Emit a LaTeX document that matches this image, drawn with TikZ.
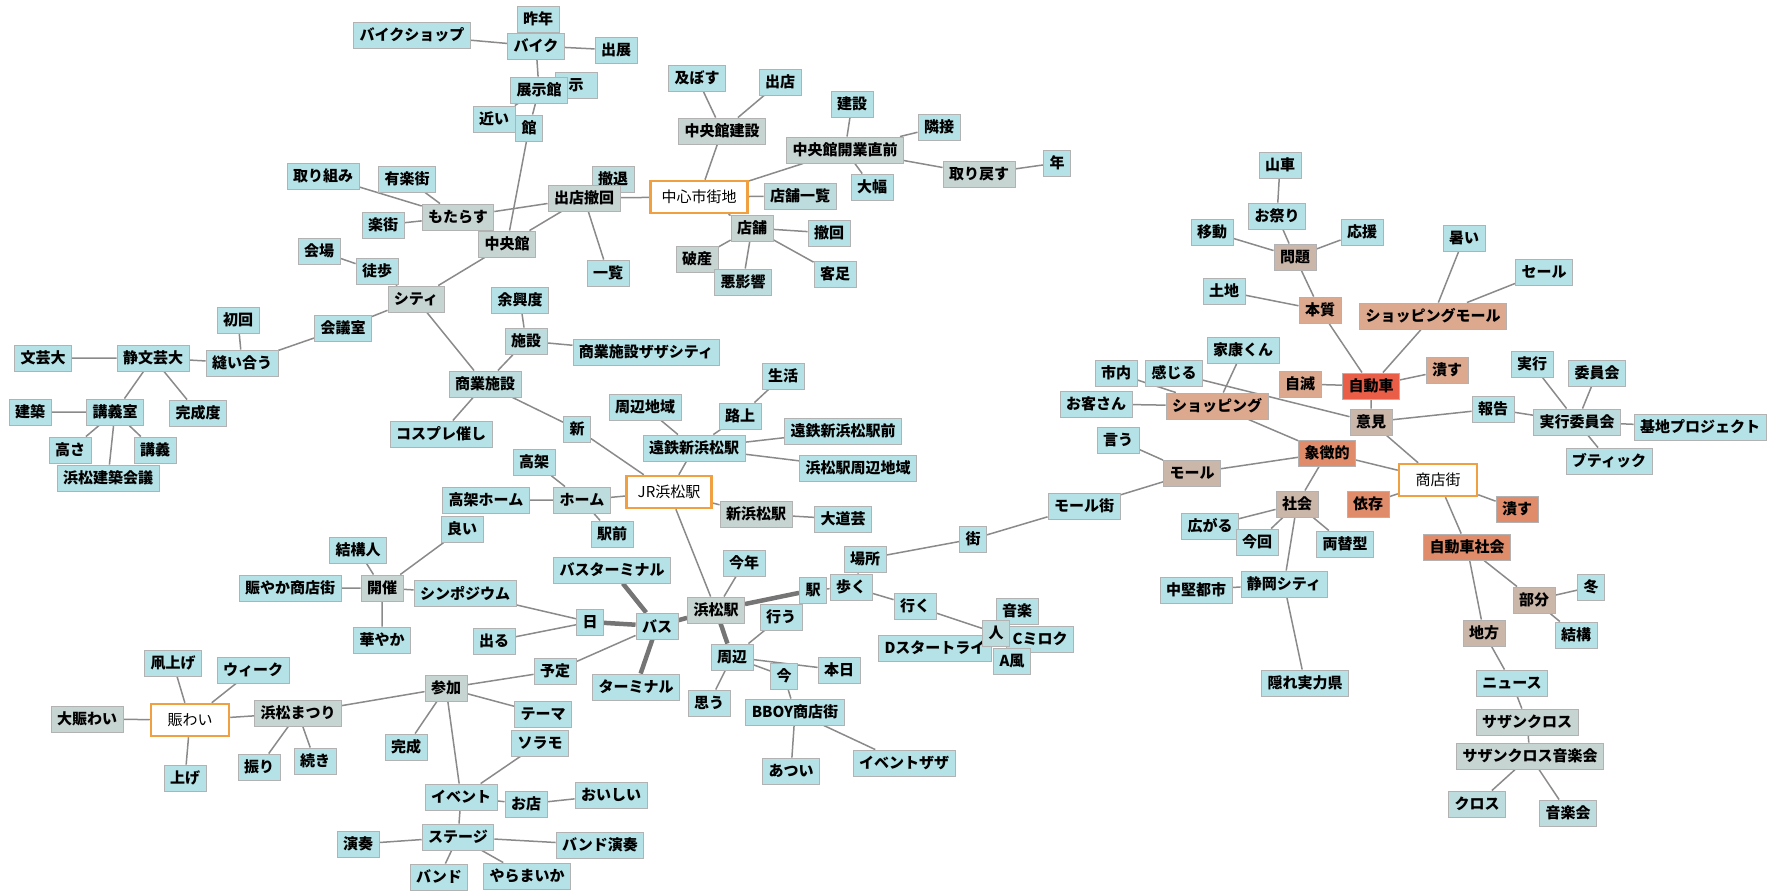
\documentclass[tikz,border=0pt]{standalone}
\usepackage{fontspec}
\setmainfont{Noto Sans CJK JP}
\usetikzlibrary{backgrounds}

\definecolor{cyanbg}{RGB}{180,226,230}
\definecolor{graybg}{RGB}{198,212,210}
\definecolor{midbg}{RGB}{188,220,221}
\definecolor{tanbg}{RGB}{203,182,170}
\definecolor{salbg}{RGB}{220,168,142}
\definecolor{corbg}{RGB}{224,140,106}
\definecolor{redbg}{RGB}{234,94,72}
\definecolor{hubline}{RGB}{240,160,64}
\definecolor{linkgray}{RGB}{138,138,138}

\tikzset{
  word/.style={draw=black!30, line width=0.9pt, inner xsep=6pt, inner ysep=2pt,
    minimum height=26pt, font=\fontsize{15}{15}\selectfont\bfseries},
  cybox/.style={word, fill=cyanbg},
  grbox/.style={word, fill=graybg},
  midbox/.style={word, fill=midbg},
  tanbox/.style={word, fill=tanbg},
  salbox/.style={word, fill=salbg},
  corbox/.style={word, fill=corbg},
  redbox/.style={word, fill=redbg},
  hubbox/.style={word, fill=white, draw=hubline, line width=2.5pt, minimum height=32pt,
    minimum width=78pt, inner xsep=11pt, font=\fontsize{15}{15}\selectfont},
  link/.style={draw=linkgray, line width=1.5pt},
  heavylink/.style={draw=linkgray!85!black, line width=4.5pt}
}

\begin{document}
\begin{tikzpicture}[x=1pt,y=-1pt]
  \useasboundingbox (0,0) rectangle (1780,894);

  % upper left
  \node[cybox] (sakunen) at (538,19) {昨年};
  \node[cybox] (bikeshop) at (412,35) {バイクショップ};
  \node[cybox] (bike) at (536,46) {バイク};
  \node[cybox] (shutten) at (616,50) {出展};
  \node[cybox, minimum width=42pt] (ji) at (576,85) {示};
  \node[cybox] (tenjikan) at (539,90) {展示館};
  \node[cybox] (chikai) at (494,119) {近い};
  \node[cybox] (kan) at (529,128) {館};
  \node[cybox] (torikumi) at (323,176) {取り組み};
  \node[cybox] (yurakugai) at (407,179) {有楽街};
  \node[grbox] (motarasu) at (458,217) {もたらす};
  \node[cybox] (rakugai) at (383,225) {楽街};
  \node[grbox] (chuokan) at (507,244) {中央館};
  \node[midbox] (tettai) at (613,179) {撤退};
  \node[grbox] (tekkaiA) at (584,198) {出店撤回};
  \node[cybox] (ichiran) at (608,273) {一覧};
  \node[cybox] (kaijo) at (319,251) {会場};
  \node[cybox] (toho) at (377,271) {徒歩};

  % upper centre
  \node[hubbox] (center) at (699,197) {中心市街地};
  \node[cybox] (oyobosu) at (697,78) {及ぼす};
  \node[cybox] (shuttenB) at (780,82) {出店};
  \node[grbox] (kensetsuC) at (722,131) {中央館建設};
  \node[cybox] (kensetsu) at (852,104) {建設};
  \node[cybox] (rinsetsu) at (939,127) {隣接};
  \node[grbox] (chokuzen) at (845,150) {中央館開業直前};
  \node[grbox] (torimodosu) at (979,174) {取り戻す};
  \node[cybox] (nen) at (1057,163) {年};
  \node[cybox] (ohaba) at (872,187) {大幅};
  \node[midbox] (tenpoichiran) at (800,196) {店舗一覧};
  \node[grbox] (tenpo) at (752,228) {店舗};
  \node[cybox] (tekkai) at (829,233) {撤回};
  \node[grbox] (hasan) at (697,259) {破産};
  \node[midbox] (akueikyo) at (743,282) {悪影響};
  \node[cybox] (kyakuashi) at (835,274) {客足};

  % left
  \node[grbox] (city) at (416,299) {シティ};
  \node[cybox] (shokai) at (238,320) {初回};
  \node[cybox] (kaigi) at (343,328) {会議室};
  \node[cybox] (bungei) at (43,358) {文芸大};
  \node[cybox] (seibungei) at (153,358) {静文芸大};
  \node[cybox] (nuiau) at (242,363) {縫い合う};
  \node[cybox] (kenchiku) at (30,412) {建築};
  \node[cybox] (kogishitsu) at (115,412) {講義室};
  \node[cybox] (kanseido) at (198,413) {完成度};
  \node[cybox] (takasa) at (70,450) {高さ};
  \node[cybox] (kogi) at (155,450) {講義};
  \node[cybox] (kaigiB) at (108,478) {浜松建築会議};

  % JR station
  \node[cybox] (yokyo) at (520,300) {余興度};
  \node[midbox] (shisetsu) at (526,341) {施設};
  \node[cybox] (zazacity) at (646,352) {商業施設ザザシティ};
  \node[midbox] (shogyo) at (485,384) {商業施設};
  \node[cybox] (cosplay) at (441,434) {コスプレ催し};
  \node[cybox] (seikatsu) at (783,376) {生活};
  \node[cybox] (shuhenchiiki) at (645,407) {周辺地域};
  \node[cybox] (rojo) at (740,416) {路上};
  \node[cybox] (shin) at (577,429) {新};
  \node[cybox] (entetsumae) at (843,431) {遠鉄新浜松駅前};
  \node[cybox] (entetsu) at (694,448) {遠鉄新浜松駅};
  \node[cybox] (hamashuhen) at (858,468) {浜松駅周辺地域};
  \node[cybox] (koka) at (534,462) {高架};
  \node[hubbox] (jr) at (669,492) {JR浜松駅};
  \node[cybox] (kokahome) at (486,500) {高架ホーム};
  \node[midbox] (home) at (582,500) {ホーム};
  \node[grbox] (shinhama) at (756,514) {新浜松駅};
  \node[cybox] (daidogei) at (843,519) {大道芸};
  \node[cybox] (yoi) at (462,529) {良い};
  \node[cybox] (ekimae) at (612,534) {駅前};

  % bus and station
  \node[cybox] (kekkonin) at (358,550) {結構人};
  \node[cybox] (nigiyaka) at (290,588) {賑やか商店街};
  \node[grbox] (kaisai) at (382,588) {開催};
  \node[cybox] (symposium) at (465,593) {シンポジウム};
  \node[cybox] (hanayaka) at (382,640) {華やか};
  \node[cybox] (kotoshi) at (744,563) {今年};
  \node[cybox] (busterm) at (612,570) {バスターミナル};
  \node[cybox] (basho) at (865,559) {場所};
  \node[cybox] (machi) at (973,539) {街};
  \node[cybox] (mallgai) at (1084,506) {モール街};
  \node[cybox] (eki) at (813,590) {駅};
  \node[cybox] (aruku) at (851,587) {歩く};
  \node[cybox] (iku) at (915,606) {行く};
  \node[cybox] (hi) at (590,622) {日};
  \node[cybox] (bus) at (657,626) {バス};
  \node[grbox] (hamaeki) at (716,610) {浜松駅};
  \node[cybox] (okonau) at (781,617) {行う};
  \node[cybox] (ongaku) at (1017,611) {音楽};
  \node[cybox] (cmiroku) at (1040,639) {Cミロク};
  \node[cybox] (dstart) at (935,648) {Dスタートライ};
  \node[cybox] (afu) at (1012,661) {A風};
  \node[midbox] (hito) at (996,633) {人};
  \node[cybox] (deru) at (494,641) {出る};
  \node[cybox] (shuhen) at (732,657) {周辺};
  \node[cybox] (yotei) at (555,671) {予定};
  \node[cybox] (ima) at (784,676) {今};
  \node[cybox] (honjitsu) at (839,670) {本日};
  \node[cybox] (terminal) at (636,687) {ターミナル};
  \node[cybox] (omou) at (709,703) {思う};
  \node[cybox] (bboy) at (795,712) {BBOY商店街};
  \node[cybox] (atsui) at (791,771) {あつい};
  \node[cybox] (eventzaza) at (904,763) {イベントザザ};

  % festival
  \node[cybox] (takoage) at (173,663) {凧上げ};
  \node[cybox] (week) at (253,670) {ウィーク};
  \node[grbox] (onigiwai) at (87,719) {大賑わい};
  \node[hubbox] (nigiwai) at (190,720) {賑わい};
  \node[grbox] (matsuri) at (298,713) {浜松まつり};
  \node[grbox] (sanka) at (446,688) {参加};
  \node[cybox] (kansei) at (406,747) {完成};
  \node[cybox] (furi) at (259,767) {振り};
  \node[cybox] (tsuzuki) at (315,761) {続き};
  \node[cybox] (age) at (185,778) {上げ};
  \node[cybox] (thema) at (543,714) {テーマ};
  \node[cybox] (sorami) at (540,743) {ソラモ};
  \node[cybox] (event) at (461,797) {イベント};
  \node[cybox] (omise) at (526,804) {お店};
  \node[cybox] (oishii) at (611,795) {おいしい};
  \node[cybox] (ensou) at (358,844) {演奏};
  \node[cybox] (stage) at (458,837) {ステージ};
  \node[cybox] (bandensou) at (600,845) {バンド演奏};
  \node[cybox] (band) at (439,877) {バンド};
  \node[cybox] (yaramaika) at (527,876) {やらまいか};

  % right
  \node[cybox] (dashi) at (1280,165) {山車};
  \node[cybox] (omatsuri) at (1277,216) {お祭り};
  \node[cybox] (ido) at (1212,232) {移動};
  \node[cybox] (oen) at (1362,232) {応援};
  \node[tanbox] (mondai) at (1295,257) {問題};
  \node[cybox] (atsui2) at (1464,238) {暑い};
  \node[cybox] (sale) at (1544,272) {セール};
  \node[cybox] (tochi) at (1224,291) {土地};
  \node[salbox] (honshitsu) at (1320,310) {本質};
  \node[salbox] (shopmall) at (1433,316) {ショッピングモール};
  \node[cybox] (ieyasu) at (1243,350) {家康くん};
  \node[cybox] (shinai) at (1116,373) {市内};
  \node[cybox] (kanjiru) at (1174,373) {感じる};
  \node[salbox] (jimetsu) at (1300,384) {自滅};
  \node[redbox] (car) at (1371,386) {自動車};
  \node[salbox] (tsubusu) at (1447,370) {潰す};
  \node[cybox] (jikko) at (1532,364) {実行};
  \node[cybox] (iinkai) at (1597,373) {委員会};
  \node[cybox] (okyaku) at (1096,404) {お客さん};
  \node[salbox] (shopping) at (1217,406) {ショッピング};
  \node[cybox] (hokoku) at (1493,409) {報告};
  \node[tanbox] (iken) at (1371,422) {意見};
  \node[midbox] (jikkoiinkai) at (1577,422) {実行委員会};
  \node[cybox] (kichi) at (1700,427) {基地プロジェクト};
  \node[cybox] (iu) at (1118,440) {言う};
  \node[tanbox] (mall) at (1192,473) {モール};
  \node[corbox] (shocho) at (1327,453) {象徴的};
  \node[cybox] (boutique) at (1609,461) {ブティック};
  \node[hubbox] (shotengai) at (1438,480) {商店街};
  \node[corbox] (izon) at (1368,504) {依存};
  \node[corbox] (tsubusu2) at (1517,509) {潰す};
  \node[tanbox] (shakai) at (1297,504) {社会};
  \node[cybox] (hirogaru) at (1210,526) {広がる};
  \node[cybox] (konkai) at (1257,542) {今回};
  \node[cybox] (ryogae) at (1345,544) {両替型};
  \node[corbox] (carsociety) at (1467,547) {自動車社会};
  \node[cybox] (chuken) at (1196,590) {中堅都市};
  \node[cybox] (shizuoka) at (1284,584) {静岡シティ};
  \node[tanbox] (bubun) at (1534,600) {部分};
  \node[cybox] (fuyu) at (1591,587) {冬};
  \node[cybox] (kekko) at (1576,635) {結構};
  \node[tanbox] (chiho) at (1484,633) {地方};
  \node[cybox] (kakure) at (1305,683) {隠れ実力県};
  \node[cybox] (news) at (1512,683) {ニュース};
  \node[grbox] (southern) at (1527,722) {サザンクロス};
  \node[grbox] (concertS) at (1530,756) {サザンクロス音楽会};
  \node[midbox] (cross) at (1477,804) {クロス};
  \node[midbox] (concert) at (1568,813) {音楽会};

  \begin{scope}[on background layer]
    \draw[link] (bikeshop) -- (bike) (sakunen) -- (bike) (bike) -- (shutten)
      (bike) -- (tenjikan) (tenjikan) -- (chikai) (tenjikan) -- (kan) (kan) -- (chuokan);
    \draw[link] (torikumi) -- (motarasu) (yurakugai) -- (motarasu) (rakugai) -- (motarasu)
      (motarasu) -- (tekkaiA) (chuokan) -- (tekkaiA) (tekkaiA) -- (ichiran) (tekkaiA) -- (center);
    \draw[link] (kaijo) -- (toho) (toho) -- (city) (city) -- (chuokan) (city) -- (kaigi)
      (city) -- (shogyo) (kaigi) -- (nuiau) (shokai) -- (nuiau) (nuiau) -- (seibungei)
      (bungei) -- (seibungei) (seibungei) -- (kogishitsu) (seibungei) -- (kanseido)
      (kenchiku) -- (kogishitsu) (kogishitsu) -- (takasa) (kogishitsu) -- (kaigiB)
      (kogishitsu) -- (kogi);
    \draw[link] (oyobosu) -- (kensetsuC) (shuttenB) -- (kensetsuC) (kensetsuC) -- (center)
      (center) -- (chokuzen) (kensetsu) -- (chokuzen) (rinsetsu) -- (chokuzen)
      (chokuzen) -- (torimodosu) (torimodosu) -- (nen) (chokuzen) -- (ohaba)
      (center) -- (tenpoichiran) (center) -- (tenpo) (tenpo) -- (tekkai) (tenpo) -- (hasan)
      (tenpo) -- (akueikyo) (tenpo) -- (kyakuashi);
    \draw[link] (yokyo) -- (shisetsu) (shisetsu) -- (zazacity) (shisetsu) -- (shogyo)
      (shogyo) -- (cosplay) (shogyo) -- (shin) (shin) -- (jr) (shuhenchiiki) -- (entetsu)
      (rojo) -- (entetsu) (seikatsu) -- (rojo) (entetsu) -- (entetsumae)
      (entetsu) -- (hamashuhen) (entetsu) -- (jr) (koka) -- (home) (kokahome) -- (home)
      (home) -- (jr) (home) -- (ekimae) (jr) -- (shinhama) (shinhama) -- (daidogei)
      (jr) -- (hamaeki) (kotoshi) -- (hamaeki);
    \draw[link] (shuhen) -- (okonau) (shuhen) -- (ima) (shuhen) -- (honjitsu) (shuhen) -- (omou)
      (ima) -- (bboy) (bboy) -- (atsui) (bboy) -- (eventzaza) (eki) -- (aruku)
      (basho) -- (aruku) (basho) -- (machi) (machi) -- (mallgai) (mallgai) -- (mall)
      (aruku) -- (iku) (iku) -- (hito);
    \draw[heavylink] (bus) -- (busterm) (bus) -- (hi) (bus) -- (terminal) (bus) -- (hamaeki)
      (hamaeki) -- (eki) (hamaeki) -- (shuhen);
    \draw[link] (bus) -- (yotei) (hi) -- (symposium) (hi) -- (deru) (yotei) -- (sanka)
      (sanka) -- (matsuri) (sanka) -- (kansei) (sanka) -- (thema) (sanka) -- (event)
      (sorami) -- (event) (event) -- (omise) (omise) -- (oishii) (event) -- (stage)
      (stage) -- (ensou) (stage) -- (bandensou) (stage) -- (band) (stage) -- (yaramaika);
    \draw[link] (kekkonin) -- (kaisai) (nigiyaka) -- (kaisai) (kaisai) -- (symposium)
      (kaisai) -- (hanayaka) (kaisai) -- (yoi) (takoage) -- (nigiwai) (week) -- (nigiwai)
      (onigiwai) -- (nigiwai) (age) -- (nigiwai) (nigiwai) -- (matsuri)
      (matsuri) -- (furi) (matsuri) -- (tsuzuki);
    \draw[link] (dashi) -- (omatsuri) (omatsuri) -- (mondai) (ido) -- (mondai) (oen) -- (mondai)
      (mondai) -- (honshitsu) (tochi) -- (honshitsu) (honshitsu) -- (car)
      (atsui2) -- (shopmall) (sale) -- (shopmall) (shopmall) -- (car) (jimetsu) -- (car)
      (car) -- (tsubusu) (car) -- (iken) (kanjiru) -- (iken) (shinai) -- (shopping)
      (ieyasu) -- (shopping) (okyaku) -- (shopping) (shopping) -- (shocho)
      (iu) -- (mall) (mall) -- (shocho) (shocho) -- (shakai) (shocho) -- (shotengai);
    \draw[link] (iken) -- (hokoku) (iken) -- (shotengai) (hokoku) -- (jikkoiinkai)
      (jikko) -- (jikkoiinkai) (iinkai) -- (jikkoiinkai) (jikkoiinkai) -- (kichi)
      (jikkoiinkai) -- (boutique) (shotengai) -- (izon) (shotengai) -- (tsubusu2)
      (shotengai) -- (carsociety) (shakai) -- (hirogaru) (shakai) -- (konkai)
      (shakai) -- (ryogae) (shakai) -- (shizuoka) (shizuoka) -- (kakure)
      (chuken) -- (shizuoka) (carsociety) -- (bubun) (carsociety) -- (chiho)
      (bubun) -- (fuyu) (bubun) -- (kekko) (chiho) -- (news) (news) -- (southern)
      (southern) -- (concertS) (concertS) -- (cross) (concertS) -- (concert);
  \end{scope}
\end{tikzpicture}
\end{document}
